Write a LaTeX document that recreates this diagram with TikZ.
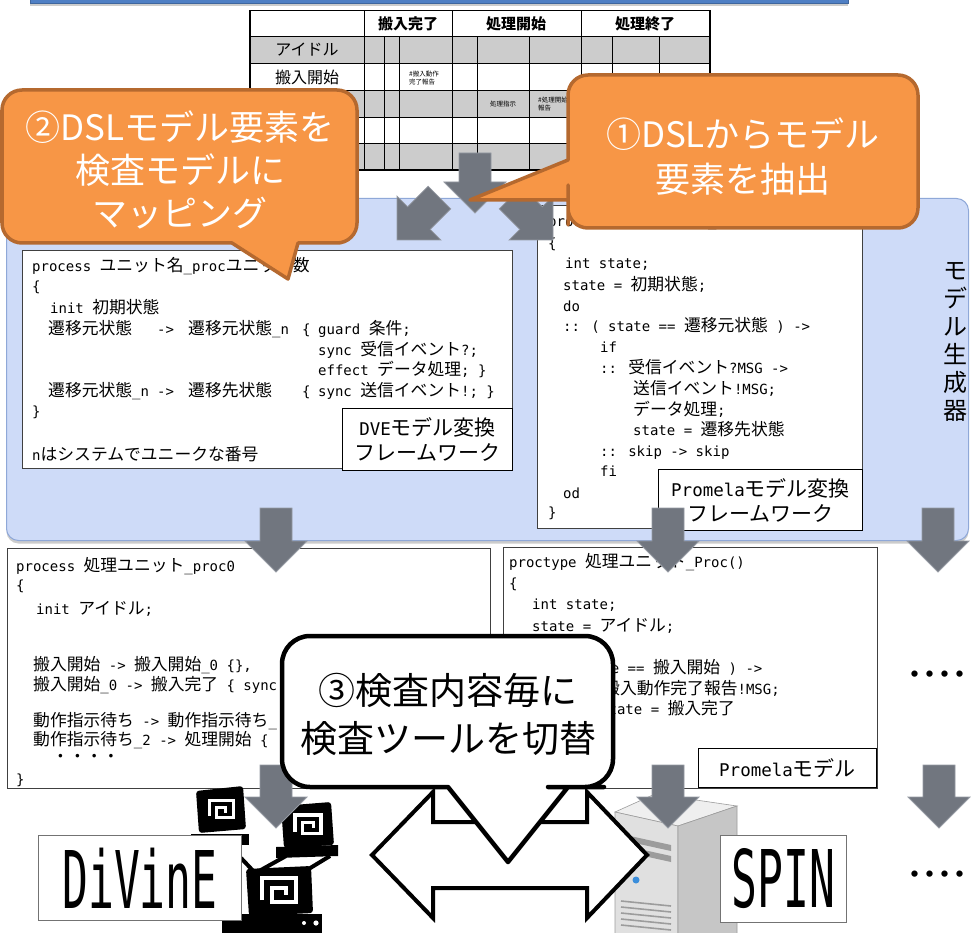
\documentclass[tikz,border=0pt]{standalone}
\usepackage{fontspec}
\usepackage{graphicx}
\setmainfont{Noto Sans CJK JP}
\newfontfamily\monofont{DejaVu Sans Mono}
\newfontfamily\cjkfont{Noto Sans CJK JP}[Scale=1.2]
\usetikzlibrary{shadows}

% Listings: Latin in a monospace face, kana/kanji at double width
\newXeTeXintercharclass\cjkcharclass
\newcount\cjkcp
\cjkcp="3000
\loop
  \XeTeXcharclass\cjkcp=\cjkcharclass
  \advance\cjkcp by 1
\ifnum\cjkcp<"A000 \repeat
\cjkcp="FF00
\loop
  \XeTeXcharclass\cjkcp=\cjkcharclass
  \advance\cjkcp by 1
\ifnum\cjkcp<"FFF0 \repeat
\XeTeXinterchartoks 0 \cjkcharclass = {\cjkfont}
\XeTeXinterchartoks 4095 \cjkcharclass = {\cjkfont}
\XeTeXinterchartoks \cjkcharclass 0 = {\monofont}
\XeTeXinterchartoks \cjkcharclass 4095 = {\monofont}

\newcommand\codefont{\monofont\fontsize{14}{20}\selectfont\XeTeXinterchartokenstate=1\relax}
\newcommand\tagfont{\monofont\fontsize{17.5}{25}\selectfont\XeTeXinterchartokenstate=1\relax}

\definecolor{orangefill}{HTML}{F79646}
\definecolor{orangeline}{HTML}{B5692F}
\definecolor{genfill}{HTML}{CEDBF8}
\definecolor{genline}{HTML}{8FA8D8}
\definecolor{arrowfill}{HTML}{71767F}
\definecolor{arrowline}{HTML}{959AA3}
\definecolor{cellgray}{HTML}{CCCCCC}
\definecolor{barblue}{HTML}{4F7FC4}
\definecolor{srvtop}{HTML}{EFEFEF}
\definecolor{srvfront}{HTML}{E0E0E0}
\definecolor{srvside}{HTML}{C6C6C6}
\definecolor{srvslot}{HTML}{9C9C9C}
\definecolor{ledblue}{HTML}{3B8EDB}

\tikzset{
  code/.style={anchor=base west, inner sep=0pt, font=\codefont},
  listing/.style={draw=black!75, line width=0.8pt, fill=white, anchor=north west, inner sep=0pt},
  tagbox/.style={draw=black, line width=1.1pt, fill=white, anchor=north west, inner sep=0pt, align=center, font=\tagfont},
  blockarrow/.style={fill=arrowfill, draw=arrowline, line width=0.8pt, line join=miter},
  orangecall/.style={fill=orangefill, draw=orangeline, line width=3.5pt, line join=round},
  calltext/.style={text=white, align=center, inner sep=0pt},
  headcell/.style={font=\fontsize{15}{15}\selectfont\bfseries, inner sep=0pt},
  rowcell/.style={font=\fontsize{16}{16}\selectfont, inner sep=0pt},
  tinycell/.style={font=\fontsize{6.5}{8}\selectfont, inner sep=0pt, align=left, anchor=west},
  toolbox/.style={draw=black!55, line width=1pt, fill=white, anchor=north west, inner sep=0pt},
  toollabel/.style={font=\monofont\fontsize{43}{43}\selectfont, inner sep=0pt},
  moredots/.style={font=\bfseries\fontsize{30}{30}\selectfont, inner sep=0pt},
  softshadow/.style={drop shadow={shadow xshift=0pt, shadow yshift=-3pt, opacity=0.4}},
}

% one line of a listing, placed at its baseline
\newcount\codeno
\newcommand\codeat[3]{\global\advance\codeno by 1\relax
  \node[code] (code\the\codeno) at (#1,#2) {#3};}

% vertical block arrow: centre x, tail y, tip y
\newcommand\blockdown[3]{%
  \path[blockarrow] (#1-16,#2) -- (#1+16,#2) -- (#1+16,#3-31) -- (#1+31,#3-31)
    -- (#1,#3) -- (#1-31,#3-31) -- (#1-16,#3-31) -- cycle;}

% square spiral on a monitor screen: centre x, centre y, half size, stroke
\newcommand\spiral[4]{%
  \draw[white, line width=#4, line join=miter] (#1-#3,#2+0.6*#3) -- (#1-#3,#2-0.7*#3)
    -- (#1+#3,#2-0.7*#3) -- (#1+#3,#2+0.7*#3) -- (#1-0.4*#3,#2+0.7*#3)
    -- (#1-0.4*#3,#2-0.1*#3) -- (#1+0.4*#3,#2-0.1*#3) -- (#1+0.4*#3,#2+0.3*#3);}

\begin{document}
\begin{tikzpicture}[x=1pt,y=-1pt]
\useasboundingbox (0,0) rectangle (971,933);
\clip (0,0) rectangle (971,933);
\fill[white] (0,0) rectangle (971,933);

% ---- title bar (bottom edge only) ----
\node[fill=barblue, draw=barblue!80!black, minimum width=818pt, minimum height=40pt,
      anchor=south west, inner sep=0pt, softshadow] (titlebar) at (30,3) {};

% ---- state/event table ----
\fill[cellgray] (250,36.7) rectangle (710,63);
\fill[cellgray] (250,90) rectangle (710,117);
\fill[cellgray] (250,143) rectangle (710,170);
\foreach \yy in {36.7,63,90,117,143} \draw[line width=0.9pt] (250,\yy) -- (710,\yy);
\foreach \xx in {364,452,581} \draw[line width=0.9pt] (\xx,10.7) -- (\xx,170);
\foreach \xx in {384,399,477,529,612,659} \draw[line width=0.9pt] (\xx,36.7) -- (\xx,170);
\draw[line width=1.3pt] (250,10.7) rectangle (710,170);
\node[headcell] (hdin) at (408,24) {搬入完了};
\node[headcell] (hdstart) at (516,24) {処理開始};
\node[headcell] (hdend) at (645,24) {処理終了};
\node[rowcell] (rowidle) at (307,50) {アイドル};
\node[rowcell] (rowin) at (307,77) {搬入開始};
\node[tinycell] (cellrep) at (409,78) {\#搬入動作\\完了報告};
\node[tinycell] (cellcmd) at (490,104) {処理指示};
\node[tinycell] (cellstart) at (538,104) {\#処理開始\\報告};

% ---- model generator panel ----
\node[fill=genfill, draw=genline, line width=1pt, rounded corners=12pt, minimum width=962pt,
      minimum height=342pt, anchor=north west, inner sep=0pt, softshadow] (gen) at (6,198) {};
\node[align=center, font=\fontsize{24}{28}\selectfont, inner sep=0pt] (genlabel) at (955,342)
  {モ\\デ\\ル\\生\\成\\器};

% ---- DVE template ----
\node[listing, minimum width=490pt, minimum height=218pt] (dvetpl) at (22,250) {};
\codeat{32}{271}{process ユニット名\_procユニット数}
\codeat{32}{291}{\{}
\codeat{50}{313}{init 初期状態}
\codeat{48}{334}{遷移元状態}
\codeat{157}{334}{->}
\codeat{188}{334}{遷移元状態\_n}
\codeat{302}{334}{\{}
\codeat{318}{334}{guard 条件;}
\codeat{318}{355}{sync 受信イベント?;}
\codeat{318}{375}{effect データ処理; \}}
\codeat{48}{396}{遷移元状態\_n}
\codeat{157}{396}{->}
\codeat{188}{396}{遷移先状態}
\codeat{302}{396}{\{}
\codeat{318}{396}{sync 送信イベント!; \}}
\codeat{32}{416}{\}}
\codeat{32}{460}{nはシステムでユニークな番号}
\node[tagbox, minimum width=170pt, minimum height=62pt] (dvefw) at (342,408) {};
\node[font=\tagfont, align=center, inner sep=0pt] (dvefwtext) at (dvefw.center) {DVEモデル変換\\フレームワーク};

% ---- Promela template ----
\node[listing, minimum width=325pt, minimum height=323pt] (promtpl) at (537,205) {};
\codeat{548}{227}{proctype ユニット名\_Proc()}
\codeat{548}{249}{\{}
\codeat{565}{269}{int state;}
\codeat{563}{290}{state = 初期状態;}
\codeat{563}{311}{do}
\codeat{563}{331}{:: ( state == 遷移元状態 ) ->}
\codeat{600}{352}{if}
\codeat{600}{373}{:: 受信イベント?MSG ->}
\codeat{633}{394}{送信イベント!MSG;}
\codeat{633}{415}{データ処理;}
\codeat{633}{435}{state = 遷移先状態}
\codeat{600}{456}{:: skip -> skip}
\codeat{600}{476}{fi}
\codeat{563}{498}{od}
\codeat{548}{517}{\}}
\node[tagbox, minimum width=204pt, minimum height=61pt] (promfw) at (658,469) {};
\node[font=\tagfont, align=center, inner sep=0pt] (promfwtext) at (promfw.center) {Promelaモデル変換\\フレームワーク};

% ---- arrows from the table into the generator ----
\blockdown{475}{153}{213}
\begin{scope}[shift={(397,240)}, rotate=-45]
  \path[blockarrow] (-16,-60) -- (16,-60) -- (16,-31) -- (31,-31) -- (0,0) -- (-31,-31) -- (-16,-31) -- cycle;
\end{scope}
\begin{scope}[shift={(553,240)}, rotate=45]
  \path[blockarrow] (-16,-60) -- (16,-60) -- (16,-31) -- (31,-31) -- (0,0) -- (-31,-31) -- (-16,-31) -- cycle;
\end{scope}

% ---- generated DVE model ----
\node[listing, minimum width=483pt, minimum height=240pt] (dvemodel) at (7,548) {};
\codeat{16}{571}{process 処理ユニット\_proc0}
\codeat{16}{590}{\{}
\codeat{36}{614}{init アイドル;}
\codeat{33}{670}{搬入開始 -> 搬入開始\_0 \{\},}
\codeat{33}{690}{搬入開始\_0 -> 搬入完了 \{ sync}
\codeat{33}{726}{動作指示待ち -> 動作指示待ち\_}
\codeat{33}{745}{動作指示待ち\_2 -> 処理開始 \{}
\codeat{52}{762}{・・・・}
\codeat{16}{784}{\}}

% ---- generated Promela model ----
\node[listing, minimum width=374pt, minimum height=241pt] (prommodel) at (503,547) {};
\codeat{509}{567}{proctype 処理ユニット\_Proc()}
\codeat{509}{588}{\{}
\codeat{532}{609}{int state;}
\codeat{532}{631}{state = アイドル;}
\codeat{532}{673}{:: ( state == 搬入開始 ) ->}
\codeat{603}{694}{搬入動作完了報告!MSG;}
\codeat{600}{714}{state = 搬入完了}
\node[tagbox, minimum width=178pt, minimum height=39pt] (promtag) at (698,748) {};
\node[font=\tagfont, inner sep=0pt] (promtagtext) at (promtag.center) {Promelaモデル};

\blockdown{276}{508}{572}
\blockdown{668}{508}{572}
\blockdown{938}{508}{572}

\node[moredots] (moremodels) at (937,678) {････};

% ---- DiVinE: networked computers ----
\fill[rounded corners=3] (196,791) -- (243,786) -- (246,829) -- (199,833) -- cycle;
\spiral{221}{809}{12}{3}
\fill (191,834) rectangle (249,845);
\fill[rounded corners=3] (281,806) -- (331,802) -- (334,845) -- (284,848) -- cycle;
\spiral{308}{824}{13}{3.2}
\fill (276,847) -- (338,845) -- (338,856) -- (276,858) -- cycle;
\draw[line width=4] (241,858) -- (258,876);
\draw[line width=4] (286,856) -- (252,875);
\draw[line width=4] (330,856) -- (307,870);
\fill[rounded corners=3] (246,869) -- (311,866) -- (313,913) -- (249,916) -- cycle;
\spiral{279}{890}{17}{4}
\fill (222,914) rectangle (322,935);
\fill[white] (304,923) circle (2) (316,923) circle (2.6);

% ---- SPIN: tower server ----
\filldraw[fill=srvtop, draw=srvslot, line width=0.6pt] (615,812) -- (655,794) -- (737,806) -- (678,826) -- cycle;
\filldraw[fill=srvfront, draw=srvslot, line width=0.6pt] (615,812) -- (678,826) -- (678,940) -- (615,940) -- cycle;
\filldraw[fill=srvside, draw=srvslot, line width=0.6pt] (678,826) -- (737,806) -- (737,940) -- (678,940) -- cycle;
\fill[srvslot] (621,834) -- (671,845) -- (671,851) -- (621,840) -- cycle;
\fill[srvslot] (621,845) -- (671,856) -- (671,862) -- (621,851) -- cycle;
\fill[ledblue] (636,880) circle (3.5);
\foreach \k in {0,...,4} \draw[srvslot, line width=1.6pt] (621,901+6*\k) -- (671,906+6*\k);

% ---- tool labels ----
\node[toolbox, minimum width=203pt, minimum height=85pt] (divine) at (38,835) {};
\node[toollabel] (divinetext) at (divine.center) {\scalebox{1}[1.85]{DiVinE}};
\node[toolbox, minimum width=126pt, minimum height=87pt] (spin) at (720,835) {};
\node[toollabel] (spintext) at (spin.center) {\scalebox{1}[1.85]{SPIN}};
\node[moredots] (moretools) at (937,878) {････};

\blockdown{276}{765}{828}
\blockdown{668}{765}{828}
\blockdown{939}{765}{828}

% ---- switching between checkers ----
\draw[line width=4pt, fill=white, line join=miter] (372,855) -- (433,792) -- (433,822) -- (587,822)
  -- (587,792) -- (647,855) -- (587,918) -- (587,888) -- (433,888) -- (433,918) -- cycle;
\draw[line width=4.5pt, fill=white, line join=round, rounded corners=28pt]
  (420,787) -- (282,787) -- (282,636) -- (613,636) -- (613,787) -- (576,787)
  [sharp corners] -- (568,787) -- (508,862) -- (448,787) -- cycle;
\node[align=center, inner sep=0pt, font=\fontsize{37}{48}\selectfont] (callthree) at (448,714)
  {③検査内容毎に\\検査ツールを切替};

% ---- orange callouts ----
\draw[orangecall, rounded corners=20pt] (200,243) -- (2,243) -- (2,90) -- (357,90) -- (357,243)
  -- (320,243) [sharp corners] -- (298,243) -- (288,279) -- (232,243) -- cycle;
\node[calltext, font=\fontsize{35}{43}\selectfont] (calltwo) at (180,170)
  {②DSLモデル要素を\\検査モデルに\\マッピング};
\draw[orangecall, rounded corners=20pt] (568,140) -- (568,75) -- (918,75) -- (918,228) -- (568,228)
  -- (568,205) [sharp corners] -- (568,200) -- (470,200) -- (568,160) -- cycle;
\node[calltext, font=\fontsize{35}{45}\selectfont] (callone) at (743,157)
  {①DSLからモデル\\要素を抽出};
\end{tikzpicture}
\end{document}
